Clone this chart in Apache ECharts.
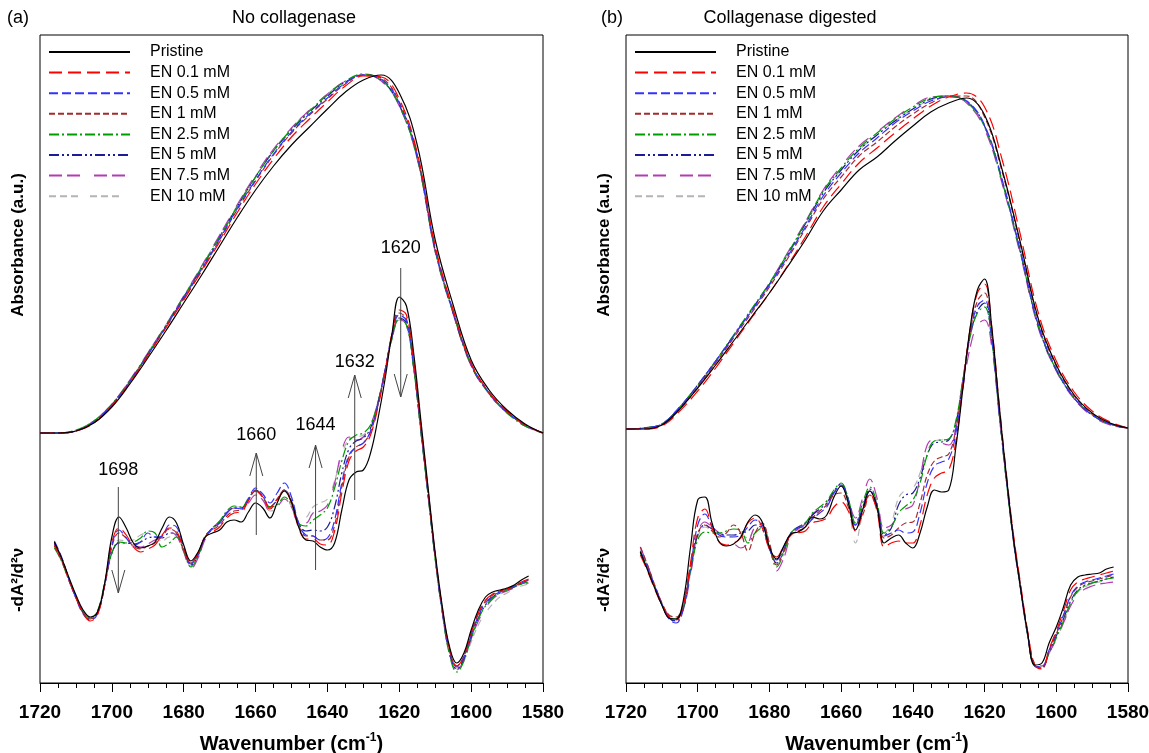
<!DOCTYPE html>
<html>
<head>
<meta charset="utf-8">
<script src="https://cdn.jsdelivr.net/npm/echarts@6/dist/echarts.min.js"></script>
<style>
  html, body { margin: 0; padding: 0; background: #fff; }
  #chart { width: 1149px; height: 753px; }
</style>
</head>
<body>
<div id="chart"></div>
<script>
// wavenumber grids (cm-1)
const absWn = [1720, 1715, 1710, 1705, 1700, 1695, 1690, 1685, 1680, 1675, 1670, 1665, 1660, 1655, 1650,
    1645, 1640, 1635, 1630, 1625, 1620, 1615, 1610, 1605, 1600, 1595, 1590, 1585, 1580];
const derWn = [1716, 1714, 1712, 1710, 1708, 1706, 1704, 1702, 1700, 1698, 1696, 1694, 1692, 1690, 1688,
    1686, 1684, 1682, 1680, 1678, 1676, 1674, 1672, 1670, 1668, 1666, 1664, 1662, 1660, 1658, 1656, 1654,
    1652, 1650, 1648, 1646, 1644, 1642, 1640, 1638, 1636, 1634, 1632, 1630, 1628, 1626, 1624, 1622, 1620,
    1618, 1616, 1614, 1612, 1610, 1608, 1606, 1604, 1602, 1600, 1598, 1596, 1594, 1592, 1590, 1588, 1586, 1584];

// (a) no collagenase - absorbance (arbitrary units, offset)
const absA_Pristine = [250, 250, 252, 260, 276, 299, 325, 352, 380, 408, 437, 466, 493, 517, 538, 556, 574, 591, 603, 608, 590, 538, 443, 378, 323, 293, 273, 259, 250];
const absA_EN01 = [250, 250, 252, 260, 277, 300, 327, 355, 383, 412, 441, 471, 499, 524, 546, 564, 581, 597, 607, 606, 584, 530, 437, 373, 320, 291, 272, 258, 250];
const absA_EN05 = [250, 250, 252, 261, 278, 301, 328, 356, 385, 414, 444, 475, 503, 529, 551, 569, 585, 600, 608, 604, 580, 527, 434, 371, 319, 290, 271, 258, 250];
const absA_EN1 = [250, 250, 252, 261, 278, 301, 328, 356, 384, 413, 443, 474, 502, 528, 550, 568, 584, 599, 608, 605, 581, 528, 435, 372, 319, 290, 271, 258, 250];
const absA_EN25 = [250, 250, 253, 262, 279, 302, 329, 357, 386, 416, 446, 477, 506, 532, 554, 572, 588, 602, 609, 603, 578, 525, 432, 370, 318, 289, 270, 257, 250];
const absA_EN5 = [250, 250, 252, 261, 278, 302, 329, 357, 386, 415, 446, 477, 506, 532, 553, 571, 587, 601, 608, 603, 578, 526, 433, 370, 318, 290, 271, 258, 250];
const absA_EN75 = [250, 250, 253, 262, 279, 303, 330, 358, 387, 417, 448, 479, 508, 534, 555, 573, 589, 602, 608, 602, 577, 524, 431, 369, 317, 289, 270, 257, 250];
const absA_EN10 = [250, 250, 253, 262, 279, 302, 330, 358, 387, 417, 447, 478, 507, 533, 555, 573, 589, 602, 608, 602, 577, 524, 432, 370, 318, 290, 271, 258, 250];

// (a) second derivative
const derA_Pristine = [141, 125, 106, 88, 73, 66, 71, 100, 146, 166,
    155, 140, 135, 137, 141, 155, 166, 160, 138, 122,
    131, 146, 150, 153, 161, 163, 161, 171, 180, 175,
    165, 180, 192, 181, 156, 143, 142, 136, 133, 140,
    173, 203, 211, 213, 230, 263, 303, 350, 386, 377,
    330, 263, 196, 130, 76, 36, 20, 30, 53, 73,
    86, 91, 93, 95, 98, 103, 107];
const derA_EN01 = [138, 124, 104, 86, 70, 62, 68, 98, 140, 155,
    148, 136, 131, 134, 138, 148, 155, 152, 134, 120,
    130, 146, 151, 156, 165, 170, 171, 182, 192, 186,
    174, 183, 192, 180, 155, 144, 144, 139, 138, 152,
    190, 222, 232, 236, 248, 275, 310, 350, 373, 368,
    322, 258, 193, 128, 74, 34, 17, 27, 50, 70,
    83, 89, 92, 94, 97, 101, 104];
const derA_EN05 = [142, 126, 104, 85, 69, 63, 69, 98, 138, 153,
    145, 138, 141, 150, 146, 147, 158, 156, 136, 119,
    129, 147, 154, 160, 170, 175, 174, 184, 195, 189,
    180, 190, 200, 186, 160, 148, 147, 143, 145, 163,
    200, 228, 236, 240, 252, 278, 312, 348, 368, 362,
    318, 255, 190, 126, 72, 32, 16, 26, 48, 67,
    80, 87, 91, 94, 97, 100, 103];
const derA_EN1 = [137, 122, 103, 85, 70, 64, 70, 97, 136, 150,
    145, 137, 134, 137, 140, 147, 154, 150, 133, 120,
    130, 147, 153, 158, 167, 172, 173, 183, 192, 186,
    176, 184, 193, 182, 158, 147, 147, 143, 143, 158,
    196, 226, 236, 240, 251, 277, 311, 349, 370, 364,
    320, 256, 191, 127, 73, 33, 17, 27, 49, 69,
    82, 88, 92, 94, 97, 100, 103];
const derA_EN25 = [135, 122, 103, 86, 71, 65, 72, 100, 130, 141,
    140, 141, 145, 152, 150, 136, 140, 146, 132, 116,
    127, 146, 155, 162, 172, 177, 176, 184, 192, 186,
    176, 178, 186, 178, 160, 157, 163, 168, 175, 195,
    222, 242, 248, 250, 258, 280, 312, 345, 364, 358,
    315, 252, 188, 124, 70, 28, 11, 22, 45, 64,
    77, 85, 90, 93, 96, 99, 101];
const derA_EN5 = [140, 125, 105, 86, 70, 64, 70, 98, 130, 140,
    140, 139, 141, 145, 146, 145, 150, 149, 133, 118,
    128, 146, 155, 161, 170, 175, 175, 184, 193, 187,
    176, 183, 193, 182, 160, 152, 153, 152, 156, 176,
    210, 234, 242, 245, 255, 279, 312, 346, 365, 360,
    316, 253, 189, 125, 71, 30, 14, 24, 46, 65,
    78, 86, 90, 93, 96, 99, 102];
const derA_EN75 = [139, 124, 104, 86, 71, 65, 71, 99, 130, 140,
    139, 137, 136, 139, 143, 146, 151, 147, 131, 114,
    125, 144, 154, 161, 170, 175, 174, 180, 188, 183,
    172, 176, 184, 176, 160, 160, 170, 172, 178, 200,
    232, 246, 243, 246, 258, 280, 312, 345, 364, 358,
    315, 252, 188, 124, 70, 30, 13, 23, 44, 62,
    75, 84, 89, 92, 95, 98, 100];
const derA_EN10 = [137, 122, 103, 86, 72, 66, 72, 100, 133, 143,
    142, 143, 148, 150, 146, 142, 146, 146, 132, 117,
    127, 145, 155, 162, 171, 176, 176, 185, 193, 187,
    172, 174, 184, 177, 162, 165, 176, 180, 184, 202,
    228, 244, 246, 248, 258, 280, 311, 344, 363, 357,
    314, 251, 187, 123, 69, 29, 14, 22, 41, 58,
    70, 79, 86, 90, 94, 97, 99];

// (b) collagenase digested - absorbance
const absB_Pristine = [254, 254, 258, 274, 295, 318, 342, 366, 390, 416, 443, 472, 493, 513, 526, 542, 557, 571, 580, 585, 568, 512, 440, 364, 318, 288, 270, 260, 255];
const absB_EN01 = [254, 254, 257, 272, 292, 315, 340, 365, 390, 417, 446, 476, 499, 520, 535, 550, 564, 577, 586, 590, 576, 522, 448, 370, 322, 291, 272, 261, 255];
const absB_EN05 = [254, 255, 259, 276, 298, 322, 347, 372, 398, 426, 456, 487, 510, 530, 545, 560, 572, 582, 586, 582, 558, 502, 432, 358, 314, 285, 268, 259, 255];
const absB_EN1 = [254, 254, 258, 274, 296, 320, 345, 370, 396, 424, 454, 484, 506, 527, 541, 556, 569, 580, 587, 587, 566, 510, 438, 362, 317, 287, 269, 259, 255];
const absB_EN25 = [254, 255, 259, 276, 298, 322, 348, 374, 400, 429, 460, 492, 515, 535, 550, 564, 576, 585, 587, 581, 556, 500, 430, 357, 313, 285, 268, 259, 255];
const absB_EN5 = [254, 255, 259, 276, 298, 322, 347, 373, 399, 428, 459, 490, 513, 533, 548, 562, 574, 584, 587, 582, 557, 501, 431, 357, 313, 285, 268, 259, 255];
const absB_EN75 = [254, 255, 259, 275, 297, 321, 347, 373, 400, 430, 461, 493, 517, 537, 551, 565, 577, 586, 587, 580, 554, 498, 428, 355, 312, 284, 267, 258, 255];
const absB_EN10 = [254, 254, 258, 274, 296, 320, 346, 372, 398, 427, 458, 490, 513, 533, 548, 562, 574, 583, 586, 581, 556, 501, 431, 357, 313, 285, 268, 259, 255];

// (b) second derivative
const derB_Pristine = [131, 113, 95, 78, 65, 64, 83, 136, 183, 186,
    160, 141, 137, 139, 146, 161, 168, 161, 136, 124,
    137, 149, 151, 156, 166, 164, 168, 186, 197, 180,
    153, 173, 192, 176, 140, 145, 148, 140, 135, 150,
    176, 193, 191, 193, 236, 296, 356, 393, 404, 356,
    280, 210, 146, 96, 50, 18, 20, 40, 56, 76,
    98, 106, 108, 109, 110, 114, 116];
const derB_EN01 = [128, 112, 94, 78, 66, 63, 78, 120, 165, 174,
    155, 141, 138, 140, 145, 160, 165, 155, 134, 126,
    137, 148, 150, 152, 160, 162, 165, 176, 181, 172,
    152, 170, 189, 172, 136, 140, 142, 140, 140, 158,
    188, 205, 210, 213, 242, 298, 355, 390, 399, 356,
    282, 212, 150, 100, 52, 18, 14, 34, 52, 72,
    93, 101, 104, 106, 108, 110, 112];
const derB_EN05 = [132, 115, 97, 79, 64, 60, 74, 115, 158, 169,
    157, 148, 146, 146, 148, 156, 163, 158, 134, 123,
    136, 150, 155, 157, 164, 170, 176, 190, 198, 183,
    158, 175, 192, 176, 147, 150, 153, 150, 151, 170,
    200, 217, 221, 224, 250, 300, 350, 377, 383, 345,
    275, 207, 146, 97, 50, 17, 16, 33, 50, 68,
    87, 97, 101, 103, 105, 107, 109];
const derB_EN1 = [136, 118, 98, 80, 68, 66, 80, 118, 150, 158,
    152, 146, 150, 158, 150, 132, 150, 160, 140, 118,
    132, 148, 152, 156, 165, 172, 178, 188, 190, 176,
    158, 168, 188, 174, 145, 148, 155, 160, 161, 180,
    208, 222, 226, 229, 254, 303, 352, 382, 390, 350,
    278, 209, 148, 98, 51, 18, 15, 32, 49, 67,
    86, 96, 100, 102, 104, 106, 108];
const derB_EN25 = [130, 115, 96, 78, 66, 64, 76, 112, 143, 151,
    150, 150, 152, 154, 153, 140, 150, 155, 136, 116,
    130, 150, 156, 160, 170, 176, 182, 193, 200, 184,
    160, 180, 196, 180, 150, 156, 170, 177, 183, 200,
    228, 242, 243, 244, 262, 305, 347, 370, 376, 342,
    272, 205, 144, 95, 48, 17, 16, 30, 45, 62,
    80, 92, 97, 100, 102, 104, 105];
const derB_EN5 = [131, 116, 97, 79, 65, 62, 75, 113, 148, 158,
    154, 150, 148, 148, 150, 152, 158, 154, 135, 120,
    133, 150, 156, 160, 168, 174, 180, 192, 199, 184,
    158, 176, 194, 178, 148, 155, 178, 188, 190, 205,
    228, 240, 241, 243, 260, 303, 347, 372, 380, 344,
    274, 206, 145, 96, 49, 17, 15, 31, 47, 64,
    82, 93, 98, 100, 102, 104, 106];
const derB_EN75 = [136, 118, 98, 80, 67, 64, 74, 108, 150, 161,
    156, 150, 146, 140, 135, 140, 156, 158, 138, 112,
    125, 147, 154, 159, 168, 175, 180, 190, 197, 182,
    165, 185, 204, 185, 155, 158, 168, 174, 178, 205,
    238, 244, 240, 238, 255, 296, 336, 358, 363, 336,
    270, 204, 143, 94, 48, 18, 17, 30, 44, 60,
    77, 88, 94, 97, 99, 100, 101];
const derB_EN10 = [133, 117, 97, 80, 67, 65, 76, 110, 146, 156,
    152, 148, 146, 147, 148, 145, 155, 157, 137, 118,
    131, 149, 155, 159, 169, 174, 180, 191, 198, 180,
    140, 170, 193, 176, 150, 160, 185, 193, 195, 210,
    232, 242, 243, 244, 262, 305, 348, 370, 376, 342,
    272, 205, 144, 95, 48, 18, 17, 30, 44, 60,
    79, 91, 96, 99, 101, 102, 103];

// band annotations in panel (a): position, arrow tail, arrow tip, label height
const annText = ['1698', '1660', '1644', '1632', '1620'];
const annWn = [1698.2, 1659.8, 1643.3, 1632.4, 1619.6];
const annFrom = [196, 148, 113, 183, 415];
const annTo = [90, 230, 238, 308, 286];
const annLabel = [213, 248, 258, 321, 435];

const names = ['Pristine', 'EN 0.1 mM', 'EN 0.5 mM', 'EN 1 mM', 'EN 2.5 mM', 'EN 5 mM', 'EN 7.5 mM', 'EN 10 mM'];
const colors = ['#000000', '#ff0000', '#3232ff', '#a52a2a', '#009c00', '#1c1c96', '#b23cb2', '#b4b4b4'];
const dashes = ['solid', [13, 6], [9, 4], [6, 3], [10, 3, 2, 3], [10, 3, 2, 3, 2, 3], [13, 5, 13, 14], [7, 4, 7, 4, 7, 12]];

const absA = [absA_Pristine, absA_EN01, absA_EN05, absA_EN1, absA_EN25, absA_EN5, absA_EN75, absA_EN10];
const derA = [derA_Pristine, derA_EN01, derA_EN05, derA_EN1, derA_EN25, derA_EN5, derA_EN75, derA_EN10];
const absB = [absB_Pristine, absB_EN01, absB_EN05, absB_EN1, absB_EN25, absB_EN5, absB_EN75, absB_EN10];
const derB = [derB_Pristine, derB_EN01, derB_EN05, derB_EN1, derB_EN25, derB_EN5, derB_EN75, derB_EN10];

const FONT = '"Liberation Sans", Arial, sans-serif';

function pairs(xs, ys) {
    return xs.map(function (x, i) { return [x, ys[i]]; });
}

function lineSeries(k, xs, ys, gi) {
    return {
        type: 'line',
        name: names[k],
        xAxisIndex: gi,
        yAxisIndex: gi,
        data: pairs(xs, ys),
        smooth: 0.4,
        symbol: 'none',
        silent: true,
        z: k === 0 ? 4 : 3,
        lineStyle: {color: colors[k], width: 1.2, type: dashes[k]},
        itemStyle: {color: colors[k]}
    };
}

const series = [];
[[absA, derA], [absB, derB]].forEach(function (panel, gi) {
    // draw EN series first so pristine stays on top
    for (let k = names.length - 1; k >= 0; k--) {
        series.push(lineSeries(k, absWn, panel[0][k], gi));
        series.push(lineSeries(k, derWn, panel[1][k], gi));
    }
});

series.push({
    type: 'custom',
    xAxisIndex: 0,
    yAxisIndex: 0,
    silent: true,
    z: 10,
    data: annWn.map(function (w, i) { return [w, annFrom[i], annTo[i], annLabel[i]]; }),
    renderItem: function (params, api) {
        const w = api.value(0);
        const p0 = api.coord([w, api.value(1)]);
        const p1 = api.coord([w, api.value(2)]);
        const pl = api.coord([w, api.value(3)]);
        const dir = p1[1] > p0[1] ? 1 : -1;
        const head = 23, half = 6.5;
        return {
            type: 'group',
            children: [
                {type: 'line', shape: {x1: p0[0], y1: p0[1], x2: p1[0], y2: p1[1]},
                    style: {stroke: '#444', lineWidth: 1}},
                {type: 'polyline', shape: {points: [[p1[0] - half, p1[1] - dir * head], [p1[0], p1[1]], [p1[0] + half, p1[1] - dir * head]]},
                    style: {stroke: '#444', lineWidth: 1, fill: null}},
                {type: 'text', style: {text: annText[params.dataIndex], x: pl[0], y: pl[1],
                    textAlign: 'center', textVerticalAlign: 'middle', align: 'center', verticalAlign: 'middle',
                    font: '18px ' + FONT, fill: '#000'}}
            ]
        };
    }
});

function xAxis(gi) {
    return {
        type: 'value',
        gridIndex: gi,
        min: 1580,
        max: 1720,
        interval: 20,
        inverse: true,
        axisLine: {show: true, onZero: false, lineStyle: {color: '#000', width: 1}},
        axisTick: {show: true, length: 9, lineStyle: {color: '#000'}},
        minorTick: {show: true, splitNumber: 4, length: 5, lineStyle: {color: '#000'}},
        splitLine: {show: false},
        axisLabel: {margin: 20, fontSize: 19, fontWeight: 'bold', color: '#000', fontFamily: FONT,
            formatter: function (v) { return String(v); }},
        name: 'Wavenumber (cm{sup|-1})',
        nameLocation: 'middle',
        nameGap: 49,
        nameTextStyle: {fontSize: 20, fontWeight: 'bold', color: '#000', fontFamily: FONT, lineHeight: 24,
            rich: {sup: {fontSize: 12, fontWeight: 'bold', fontFamily: FONT, verticalAlign: 'top', lineHeight: 13}}}
    };
}

function yAxis(gi) {
    return {type: 'value', gridIndex: gi, min: 0, max: 648, show: false};
}

function legend(left) {
    return {
        orient: 'vertical',
        left: left,
        top: 44,
        padding: 0,
        itemWidth: 81,
        itemHeight: 14,
        itemGap: 4.6,
        selectedMode: false,
        data: names,
        itemStyle: {opacity: 0},
        textStyle: {fontSize: 16, fontFamily: FONT, color: '#000', padding: [0, 0, 0, 15]}
    };
}

function label(text, x, y, font, rot) {
    return {type: 'text', x: x, y: y, rotation: rot || 0, silent: true,
        style: {text: text, font: font, fill: '#000', textAlign: 'center', textVerticalAlign: 'middle',
            align: 'center', verticalAlign: 'middle'}};
}

const option = {
    animation: false,
    backgroundColor: '#fff',
    grid: [
        {left: 40, right: 606, top: 35, bottom: 70, show: true, borderColor: '#000', borderWidth: 1,
            containLabel: false, outerBoundsMode: 'none'},
        {left: 626, right: 21, top: 35, bottom: 70, show: true, borderColor: '#000', borderWidth: 1,
            containLabel: false, outerBoundsMode: 'none'}
    ],
    xAxis: [xAxis(0), xAxis(1)],
    yAxis: [yAxis(0), yAxis(1)],
    legend: [legend(48), legend(634)],
    graphic: [
        label('(a)', 18, 18, '18px ' + FONT),
        label('No collagenase', 294, 18, '18px ' + FONT),
        label('(b)', 612, 18, '18px ' + FONT),
        label('Collagenase digested', 790, 18, '18px ' + FONT),
        label('Absorbance (a.u.)', 18, 245, 'bold 17px ' + FONT, Math.PI / 2),
        label('-dA\u00b2/d\u00b2\u03bd', 18, 580, 'bold 17px ' + FONT, Math.PI / 2),
        label('Absorbance (a.u.)', 604, 245, 'bold 17px ' + FONT, Math.PI / 2),
        label('-dA\u00b2/d\u00b2\u03bd', 604, 580, 'bold 17px ' + FONT, Math.PI / 2)
    ],
    series: series
};

const chart = echarts.init(document.getElementById('chart'));
chart.setOption(option);
</script>
</body>
</html>
